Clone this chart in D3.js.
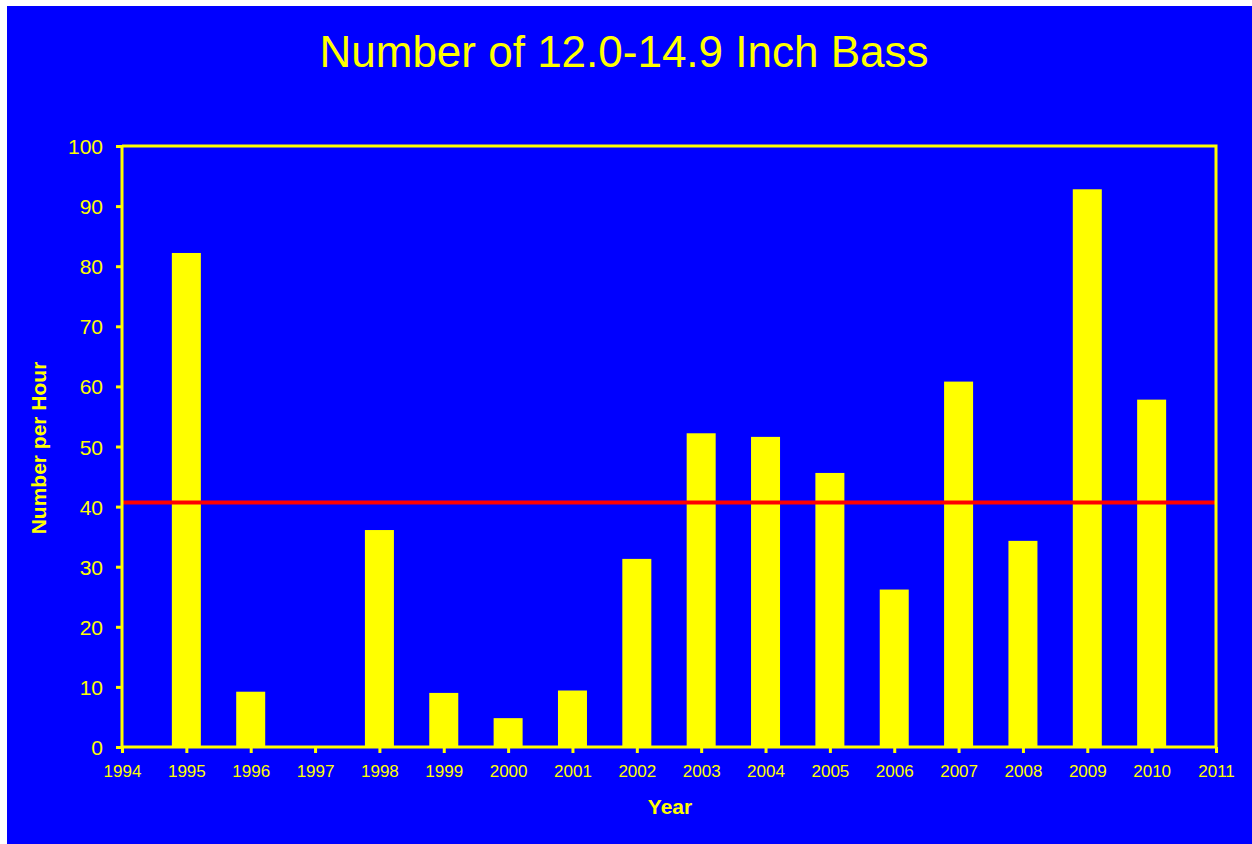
<!DOCTYPE html>
<html>
<head>
<meta charset="utf-8">
<script src="https://cdn.jsdelivr.net/npm/d3@7"></script>
<style>
  body { margin: 0; background: #fff; }
  svg { display: block; font-family: "Liberation Sans", Arial, sans-serif; }
</style>
</head>
<body>
<svg id="chart" width="1252" height="844"></svg>
<script>
// data
const years = [1995, 1996, 1997, 1998, 1999, 2000, 2001, 2002, 2003, 2004, 2005, 2006, 2007, 2008, 2009, 2010];
const perHour = [82.2, 9.2, 0, 36.1, 9.0, 4.8, 9.4, 31.3, 52.2, 51.6, 45.6, 26.2, 60.8, 34.3, 92.8, 57.8];
const average = 40.7;
const xTicks = d3.range(1994, 2012);
const yTicks = [0, 10, 20, 30, 40, 50, 60, 70, 80, 90, 100];

const w = 1252;
const h = 844;
const plotLeft = 122, plotRight = 1216, plotTop = 146, plotBottom = 747;
const yellow = '#ffff00';
const font = '"Liberation Sans", Arial, sans-serif';

const svg = d3.select('#chart');

// blue panel
svg.append('rect')
  .attr('x', 7).attr('y', 6)
  .attr('width', w - 7).attr('height', h - 6)
  .attr('fill', '#0000ff');

const x = d3.scaleLinear().domain([1994, 2011]).range([plotLeft, plotRight]);
const y = d3.scaleLinear().domain([0, 100]).range([plotBottom, plotTop]);

// bars
svg.selectAll('rect.bar')
  .data(years)
  .enter()
  .append('rect')
  .attr('class', 'bar')
  .attr('x', (d) => x(d) - 14.5)
  .attr('width', 29)
  .attr('y', (d, i) => y(perHour[i]))
  .attr('height', (d, i) => y(0) - y(perHour[i]))
  .attr('fill', yellow);

// average line
svg.append('line')
  .attr('x1', plotLeft + 1).attr('x2', plotRight)
  .attr('y1', y(average)).attr('y2', y(average))
  .attr('stroke', '#ff0000')
  .attr('stroke-width', 4);

// frame top + right
svg.append('path')
  .attr('d', `M${plotLeft},${plotTop}H${plotRight}V${plotBottom}`)
  .attr('fill', 'none')
  .attr('stroke', yellow)
  .attr('stroke-width', 3);

// axes
const xAxis = d3.axisBottom(x).tickValues(xTicks).tickFormat(d3.format('d')).tickSize(6).tickPadding(12);
const yAxis = d3.axisLeft(y).tickValues(yTicks).tickSize(6).tickPadding(13);

const gx = svg.append('g')
  .attr('transform', `translate(0, ${plotBottom})`)
  .call(xAxis);
const gy = svg.append('g')
  .attr('transform', `translate(${plotLeft}, 0)`)
  .call(yAxis);

[gx, gy].forEach((g) => {
  g.select('.domain').attr('stroke', yellow).attr('stroke-width', 3);
  g.selectAll('.tick line').attr('stroke', yellow).attr('stroke-width', 3);
  g.selectAll('.tick text')
    .attr('fill', yellow)
    .style('font-family', font);
});
gx.selectAll('.tick text').style('font-size', '17px');
gy.selectAll('.tick text').style('font-size', '21px').attr('dy', '0.36em');
gx.select('.domain').attr('d', `M${plotLeft},0H${plotRight}`);
gy.select('.domain').attr('d', `M0,${plotBottom}V${plotTop}`);

// titles
svg.append('text')
  .attr('x', 624).attr('y', 67)
  .attr('text-anchor', 'middle')
  .attr('fill', yellow)
  .style('font-family', font)
  .style('font-size', '44px')
  .text('Number of 12.0-14.9 Inch Bass');

svg.append('text')
  .attr('x', 670).attr('y', 814)
  .attr('text-anchor', 'middle')
  .attr('fill', yellow)
  .style('font-family', font)
  .style('font-size', '21px')
  .style('font-weight', 'bold')
  .text('Year');

svg.append('text')
  .attr('transform', 'translate(46, 448) rotate(-90)')
  .attr('text-anchor', 'middle')
  .attr('fill', yellow)
  .style('font-family', font)
  .style('font-size', '21px')
  .style('font-weight', 'bold')
  .text('Number per Hour');
</script>
</body>
</html>
